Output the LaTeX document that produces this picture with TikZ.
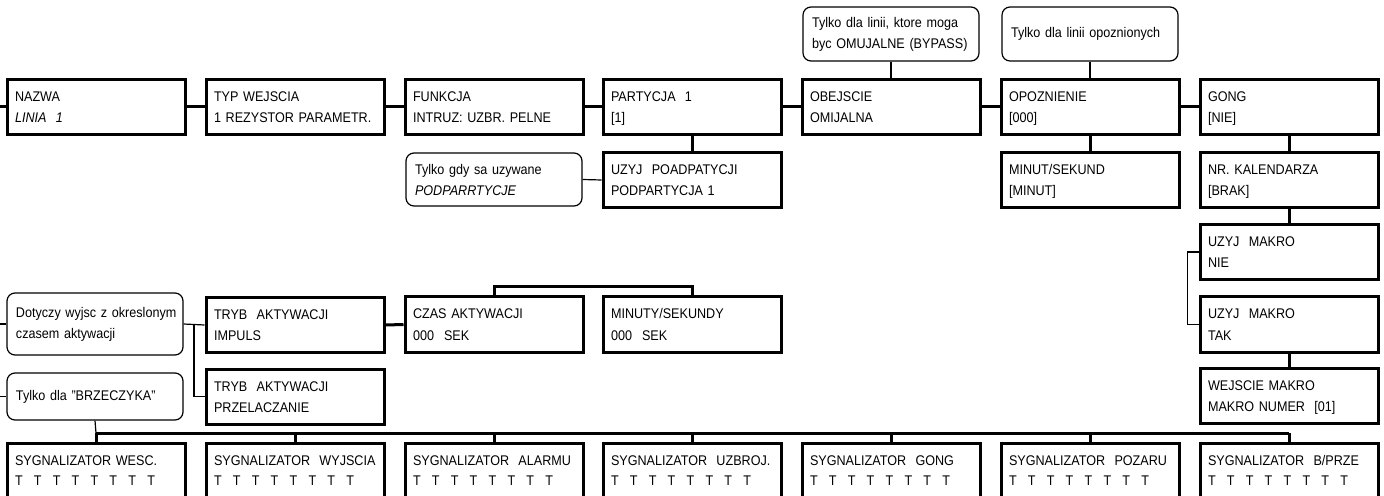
\documentclass[tikz,border=0pt]{standalone}
\usepackage{fontspec}
\setmainfont{Liberation Sans}[FakeStretch=0.9]
\usetikzlibrary{calc}
\newcommand{\mytrow}{\makebox[9.45pt][l]{T}\makebox[9.45pt][l]{T}\makebox[9.45pt][l]{T}\makebox[9.45pt][l]{T}\makebox[9.45pt][l]{T}\makebox[9.45pt][l]{T}\makebox[9.45pt][l]{T}T}
\tikzset{
  box/.style={draw, line width=1.5pt, minimum width=89pt, minimum height=27.5pt,
    text width=81pt, inner xsep=4pt, inner ysep=0pt, align=left,
    text height=5pt, text depth=10.5pt, font={\fontsize{7}{10.5}\selectfont}},
  sbox/.style={box, text depth=9.7pt, font={\fontsize{7}{9.7}\selectfont}},
  note/.style={draw, line width=0.6pt, rounded corners=4pt, minimum width=88pt,
    text width=79pt, inner xsep=4.5pt, inner ysep=0pt, align=left,
    font={\fontsize{7}{10.5}\selectfont}},
  wire/.style={line width=1.5pt},
  twire/.style={line width=0.6pt}
}
\begin{document}
\begin{tikzpicture}[x=0.5pt,y=-0.5pt]
\useasboundingbox (0,0) rectangle (1384,496);
\clip (0,0) rectangle (1384,496);
% top row
\node[box] (n1) at (96,107) {NAZWA\\\textit{LINIA\ \ 1}};
\node[box] (n2) at (295,107) {TYP WEJSCIA\\1 REZYSTOR PARAMETR.};
\node[box] (n3) at (494,107) {FUNKCJA\\INTRUZ: UZBR. PELNE};
\node[box] (n4) at (692,107) {PARTYCJA\ \ 1\\{[1]}};
\node[box] (n5) at (891,107) {OBEJSCIE\\OMIJALNA};
\node[box] (n6) at (1090,107) {OPOZNIENIE\\{[000]}};
\node[box] (n7) at (1289,107) {GONG\\{[NIE]}};
% second row
\node[box] (n4b) at (692,180) {UZYJ\ \ POADPATYCJI\\PODPARTYCJA 1};
\node[box] (n6b) at (1090,180) {MINUT/SEKUND\\{[MINUT]}};
\node[box] (n7b) at (1289,180) {NR. KALENDARZA\\{[BRAK]}};
% right column
\node[box] (mk1) at (1289,252) {UZYJ\ \ MAKRO\\NIE};
\node[box] (mk2) at (1289,324.5) {UZYJ\ \ MAKRO\\TAK};
\node[box] (mk3) at (1289,396) {WEJSCIE MAKRO\\MAKRO NUMER\ \ [01]};
% middle
\node[box] (t1) at (295,325) {TRYB\ \ AKTYWACJI\\IMPULS};
\node[box] (t2) at (295,396.5) {TRYB\ \ AKTYWACJI\\PRZELACZANIE};
\node[box] (c1) at (494,324.5) {CZAS AKTYWACJI\\000\hspace{5pt}SEK};
\node[box] (c2) at (692,324.5) {MINUTY/SEKUNDY\\000\hspace{5pt}SEK};
% notes
\node[note, minimum height=27pt] (na) at (891,34) {Tylko dla linii, ktore moga\\byc OMUJALNE (BYPASS)};
\node[note, minimum height=27pt] (nb) at (1090,34) {Tylko dla linii opoznionych};
\node[note, minimum height=26.5pt] (np) at (494,179.5) {Tylko gdy sa uzywane\\\textit{PODPARRTYCJE}};
\node[note, minimum height=31pt] (nd) at (95,324) {\mbox{Dotyczy wyjsc z okreslonym}\\czasem aktywacji};
\node[note, minimum height=23.5pt] (nz) at (95,396.5) {Tylko dla "BRZECZYKA"};
% bottom row
\node[sbox] (b1) at (96,470.5) {SYGNALIZATOR WESC.\\\mytrow};
\node[sbox] (b2) at (295,470.5) {SYGNALIZATOR\ \ WYJSCIA\\\mytrow};
\node[sbox] (b3) at (494,470.5) {SYGNALIZATOR\ \ ALARMU\\\mytrow};
\node[sbox] (b4) at (692,470.5) {SYGNALIZATOR\ \ UZBROJ.\\\mytrow};
\node[sbox] (b5) at (891,470.5) {SYGNALIZATOR\ \ GONG\\\mytrow};
\node[sbox] (b6) at (1090,470.5) {SYGNALIZATOR\ \ POZARU\\\mytrow};
\node[sbox] (b7) at (1289,470.5) {SYGNALIZATOR\ \ B/PRZE\\\mytrow};
% coordinates
\coordinate (s0) at (0,107);
\coordinate (s1) at (0,324);
\coordinate (s2) at (0,396.5);
\coordinate (busL) at (96,433);
\coordinate (busR) at (1289,433);
\coordinate (j1) at ($(nd.east)!0.5!(t1.west)$);
% thick connectors
\draw[wire] (s0) -- (n1.west);
\draw[wire] (n1.east) -- (n2.west);
\draw[wire] (n2.east) -- (n3.west);
\draw[wire] (n3.east) -- (n4.west);
\draw[wire] (n4.east) -- (n5.west);
\draw[wire] (n5.east) -- (n6.west);
\draw[wire] (n6.east) -- (n7.west);
\draw[wire] (n4.south) -- (n4b.north);
\draw[wire] (n6.south) -- (n6b.north);
\draw[wire] (n7.south) -- (n7b.north);
\draw[wire] (n7b.south) -- (mk1.north);
\draw[wire] (mk2.south) -- (mk3.north);
\draw[wire] (t1.east) -- (c1.west);
\draw[wire] (c1.north) -- ++(0,-9) -| (c2.north);
\draw[wire] (busL) -- (busR);
\foreach \b in {b1,b2,b3,b4,b5,b6,b7} \draw[wire] (\b.north) -- (\b.north |- busL);
% thin connectors
\draw[twire] (na.south) -- (n5.north);
\draw[twire] (nb.south) -- (n6.north);
\draw[twire] (np.east) -- (n4b.west);
\draw[twire] (mk1.west) -- ++(-11,0) |- (mk2.west);
\draw[twire] (s1) -- (nd.west);
\draw[twire] (s2) -- (nz.west);
\draw[twire] (nd.east) -- (t1.west);
\draw[twire] (j1) |- (t2.west);
\draw[twire] (nz.south) -- (busL);
\end{tikzpicture}
\end{document}
